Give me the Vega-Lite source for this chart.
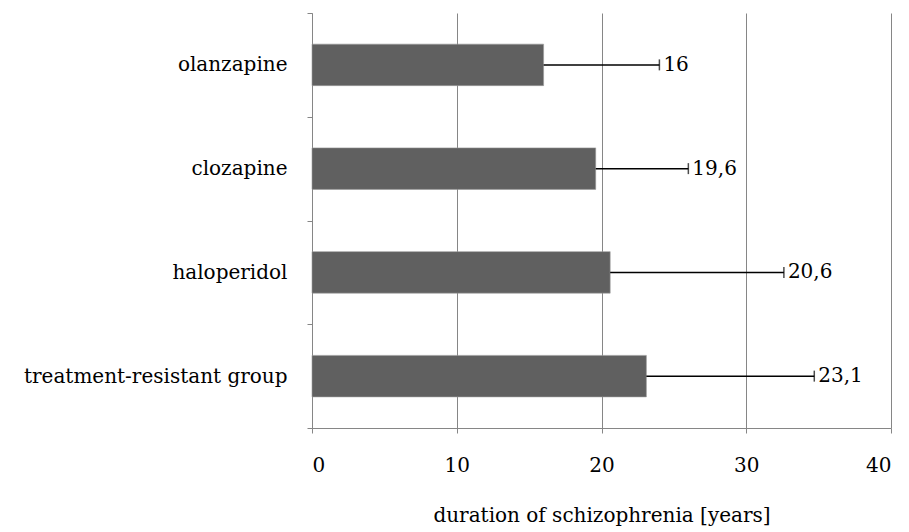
{
  "$schema": "https://vega.github.io/schema/vega-lite/v6.json",
  "autosize": "none",
  "width": 579,
  "height": 415,
  "padding": {"left": 312, "top": 13, "right": 18, "bottom": 104},
  "background": "white",
  "config": {
    "view": {"stroke": null},
    "font": "DejaVu Serif"
  },
  "data": {
    "values": [
      {"group": "olanzapine", "mean": 16, "upper": 24.0, "label": "16"},
      {"group": "clozapine", "mean": 19.6, "upper": 26.0, "label": "19,6"},
      {"group": "haloperidol", "mean": 20.6, "upper": 32.6, "label": "20,6"},
      {"group": "treatment-resistant group", "mean": 23.1, "upper": 34.7, "label": "23,1"}
    ]
  },
  "encoding": {
    "y": {
      "field": "group",
      "type": "nominal",
      "sort": null,
      "scale": {"paddingInner": 0, "paddingOuter": 0},
      "axis": {
        "title": null,
        "domainColor": "#868686",
        "domainWidth": 1,
        "tickColor": "#868686",
        "tickSize": 5,
        "tickBand": "extent",
        "labelFont": "DejaVu Serif",
        "labelFontSize": 20,
        "labelColor": "#000000",
        "labelPadding": 20,
        "labelLimit": 400,
        "grid": false
      }
    }
  },
  "layer": [
    {
      "mark": {"type": "bar", "color": "#606060", "stroke": "#9a9a9a", "strokeWidth": 0.6, "height": {"band": 0.4}},
      "encoding": {
        "x": {
          "field": "mean",
          "type": "quantitative",
          "scale": {"domain": [0, 40], "nice": false},
          "axis": {
            "values": [0, 10, 20, 30, 40],
            "title": "duration of schizophrenia [years]",
            "titleFont": "DejaVu Serif",
            "titleFontSize": 20,
            "titleFontWeight": "normal",
            "titleColor": "#000000",
            "titlePadding": 30,
            "labelFont": "DejaVu Serif",
            "labelFontSize": 20,
            "labelColor": "#000000",
            "labelPadding": 22,
            "domainColor": "#868686",
            "tickColor": "#868686",
            "tickSize": 5,
            "grid": true,
            "gridColor": "#868686",
            "gridWidth": 1
          }
        }
      }
    },
    {
      "mark": {"type": "rule", "color": "#000000", "strokeWidth": 1.5},
      "encoding": {
        "x": {"field": "mean", "type": "quantitative"},
        "x2": {"field": "upper"}
      }
    },
    {
      "mark": {"type": "tick", "color": "#000000", "thickness": 1.5, "size": 11, "orient": "vertical"},
      "encoding": {
        "x": {"field": "upper", "type": "quantitative"}
      }
    },
    {
      "mark": {"type": "text", "align": "left", "baseline": "middle", "dx": 4, "font": "DejaVu Serif", "fontSize": 20, "color": "#000000"},
      "encoding": {
        "x": {"field": "upper", "type": "quantitative"},
        "text": {"field": "label"}
      }
    }
  ]
}
